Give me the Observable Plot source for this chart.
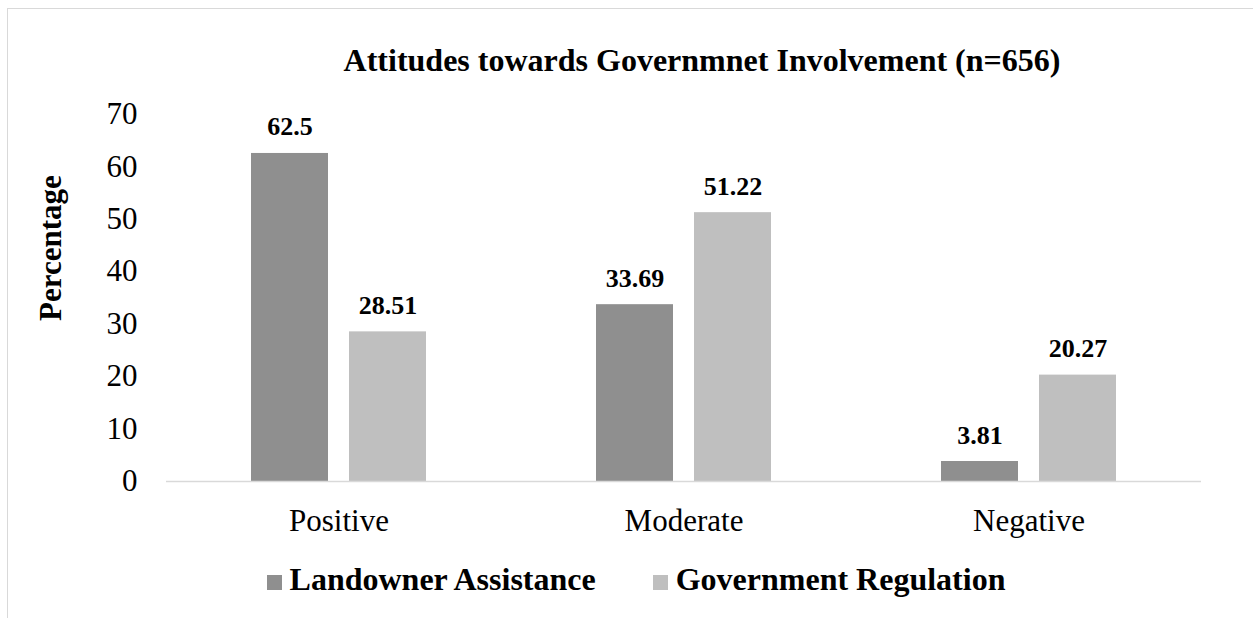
<!DOCTYPE html>
<html>
<head>
<meta charset="utf-8">
<script src="https://cdn.jsdelivr.net/npm/d3@7"></script>
<script src="https://cdn.jsdelivr.net/npm/@observablehq/plot@0.6"></script>
<style>
  body { margin: 0; background: #fff; }
  #chart {
    position: relative; width: 1253px; height: 618px; overflow: hidden;
    font-family: "Liberation Serif", "Times New Roman", serif; color: #000;
  }
  #frame {
    position: absolute; left: 7px; top: 8px; right: -4px; bottom: -4px;
    border-top: 1px solid #d9d9d9; border-left: 1px solid #d9d9d9;
  }
  #title {
    position: absolute; left: 0; top: 44px; width: 1404px; text-align: center;
    font-weight: bold; font-size: 32px; line-height: 1; white-space: nowrap;
  }
  #ytitle {
    position: absolute; left: 50px; top: 248px; transform: translate(-50%, -50%) rotate(-90deg);
    font-weight: bold; font-size: 31px; line-height: 1; white-space: nowrap;
  }
  #legend {
    position: absolute; left: 0; top: 563px; width: 1272px; display: flex; justify-content: center;
    font-weight: bold; font-size: 32px; line-height: 1; white-space: nowrap;
  }
  #legend .item { display: flex; align-items: baseline; }
  #legend .item + .item { margin-left: 57px; }
  #legend .swatch { display: inline-block; width: 15px; height: 15px; margin-right: 8px; }
  #plot { position: absolute; left: 0; top: 0; }
</style>
</head>
<body>
<div id="chart">
  <div id="frame"></div>
  <div id="plot"></div>
  <div id="title"></div>
  <div id="ytitle"></div>
  <div id="legend"></div>
</div>
<script>
// Survey response shares (%) by attitude category
const title = "Attitudes towards Governmnet Involvement (n=656)";
const yLabel = "Percentage";
const categories = ["Positive", "Moderate", "Negative"];
const series = ["Landowner Assistance", "Government Regulation"];
const landowner = [62.5, 33.69, 3.81];
const regulation = [28.51, 51.22, 20.27];
const colors = ["#8f8f8f", "#bfbfbf"];
const yTicks = [0, 10, 20, 30, 40, 50, 60, 70];

const data = categories.flatMap((c, i) => [
  {category: c, series: series[0], value: landowner[i]},
  {category: c, series: series[1], value: regulation[i]}
]);

const plot = Plot.plot({
  width: 1253,
  height: 618,
  marginTop: 113.6,
  marginBottom: 137,
  marginLeft: 166,
  marginRight: 52,
  style: {
    fontFamily: '"Liberation Serif", "Times New Roman", serif',
    fontSize: "31px",
    color: "#000",
    background: "transparent",
    overflow: "visible"
  },
  fx: {domain: categories, padding: 0, axis: "bottom", tickSize: 0, tickPadding: 27, label: null},
  x: {domain: series, paddingInner: 0.214, paddingOuter: 0.867, axis: null},
  y: {domain: [0, 70], ticks: yTicks, tickSize: 0, tickPadding: 29, label: null},
  color: {domain: series, range: colors},
  marks: [
    Plot.barY(data, {fx: "category", x: "series", y: "value", fill: "series"}),
    Plot.ruleY([0], {stroke: "#d9d9d9", strokeWidth: 1.5}),
    Plot.text(data, {
      fx: "category", x: "series", y: "value",
      text: d => String(d.value),
      lineAnchor: "bottom", dy: -18,
      fontSize: 26, fontWeight: "bold", fill: "#000"
    })
  ]
});
document.getElementById("plot").appendChild(plot);

document.getElementById("title").textContent = title;
document.getElementById("ytitle").textContent = yLabel;

const legend = document.getElementById("legend");
series.forEach((s, i) => {
  const item = document.createElement("div");
  item.className = "item";
  const sw = document.createElement("span");
  sw.className = "swatch";
  sw.style.background = colors[i];
  const label = document.createElement("span");
  label.textContent = s;
  item.appendChild(sw);
  item.appendChild(label);
  legend.appendChild(item);
});
</script>
</body>
</html>
